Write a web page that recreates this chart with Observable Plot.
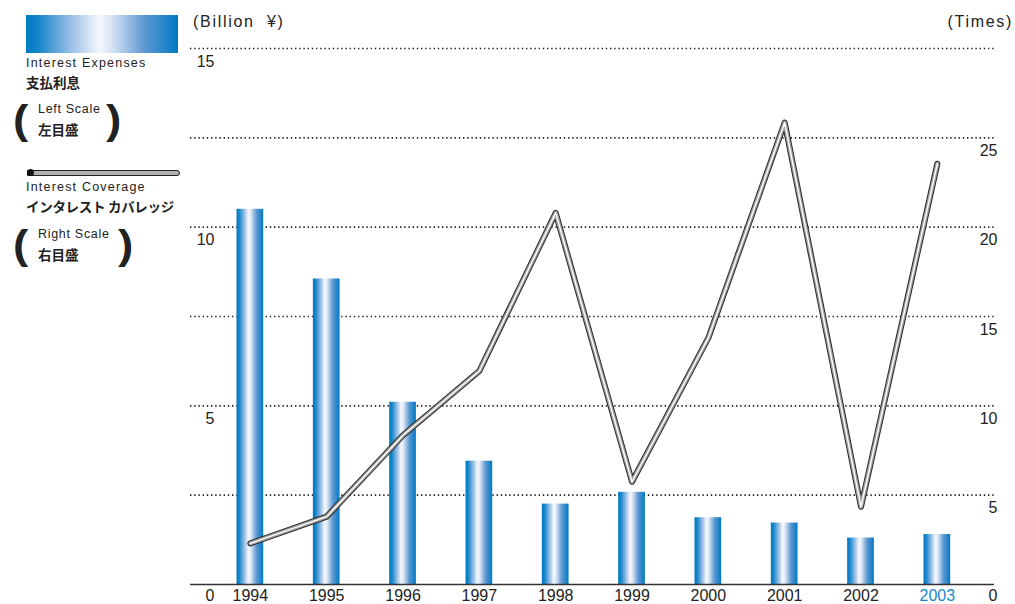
<!DOCTYPE html>
<html>
<head>
<meta charset="utf-8">
<script src="https://cdn.jsdelivr.net/npm/d3@7"></script>
<script src="https://cdn.jsdelivr.net/npm/@observablehq/plot@0.6"></script>
<style>
  html, body { margin: 0; padding: 0; background: #fff; }
  #wrap { position: relative; width: 1015px; height: 604px; font-family: "Liberation Sans", Arial, sans-serif; color: #222; }
  #wrap svg { position: absolute; left: 0; top: 0; }
  .abs { position: absolute; white-space: pre; }
  .en { font-size: 12.5px; letter-spacing: 1.2px; }
  .ja { font-family: "Noto Sans CJK JP", sans-serif; font-weight: bold; font-size: 13.5px; }
  .small { font-size: 12.5px; letter-spacing: 0.7px; }
  .paren { font-family: "Liberation Sans", Arial, sans-serif; font-weight: bold; font-size: 40px; line-height: 40px; transform: scaleX(1.15); }
  .unit { font-size: 16px; letter-spacing: 1.7px; }
</style>
</head>
<body>
<div id="wrap"></div>
<script>
// ---- data ----
const years = ["1994", "1995", "1996", "1997", "1998", "1999", "2000", "2001", "2002", "2003"];
const interestExpenses = [10.5, 8.55, 5.1, 3.45, 2.25, 2.58, 1.87, 1.72, 1.3, 1.4]; // Billion ¥ (left scale)
const interestCoverage = [2.3, 3.8, 8.35, 11.95, 20.8, 5.75, 13.8, 25.85, 4.35, 23.55]; // Times (right scale)
const leftTicks = [5, 10, 15];
const rightTicks = [5, 10, 15, 20, 25];
const zeroTick = [0];
const rightGrid = [5, 10, 15, 20, 25, 30];
const leftMax = 15, rightMax = 30;
const highlightYear = "2003";

const toLeft = v => v * leftMax / rightMax;
const rows = years.map((y, i) => ({year: y, expense: interestExpenses[i], coverage: toLeft(interestCoverage[i])}));

const plot = Plot.plot({
  width: 1015,
  height: 604,
  marginLeft: 190,
  marginRight: 21,
  marginTop: 48,
  marginBottom: 20,
  style: {fontFamily: "Liberation Sans, Arial, sans-serif", fontSize: "16px", color: "#222", background: "transparent"},
  x: {type: "band", domain: years, paddingInner: 0.65, paddingOuter: 0.5916, align: 0.515, round: false, label: null},
  y: {domain: [0, leftMax], label: null},
  marks: [
    Plot.ruleY(rightGrid.map(toLeft), {stroke: "#222", strokeWidth: 1.6, strokeDasharray: "1.4 2.8"}),
    Plot.barY(rows, {x: "year", y: "expense", fill: "url(#barGrad)"}),
    Plot.ruleY([0], {stroke: "#333", strokeWidth: 1.6}),
    Plot.line(rows, {x: "year", y: "coverage", stroke: "#2a2a2a", strokeWidth: 6, strokeLinejoin: "round", strokeLinecap: "round"}),
    Plot.line(rows, {x: "year", y: "coverage", stroke: "#a0a0a0", strokeWidth: 4, strokeLinejoin: "round", strokeLinecap: "round"}),
    Plot.line(rows, {x: "year", y: "coverage", stroke: "#ffffff", strokeWidth: 1.4, strokeLinejoin: "round", strokeLinecap: "round"}),
    Plot.axisY(leftTicks, {anchor: "left", tickSize: 0, tickPadding: 0, dx: 24, dy: 13, label: null, fill: "#222"}),
    Plot.axisY(zeroTick, {anchor: "left", tickSize: 0, tickPadding: 0, dx: 24, dy: 11, label: null, fill: "#222"}),
    Plot.axisY(rightTicks.map(toLeft), {anchor: "right", tickSize: 0, tickPadding: 0, textAnchor: "end", dx: 3, dy: 13, label: null, tickFormat: d => String(Math.round(d * rightMax / leftMax)), fill: "#222"}),
    Plot.axisY(zeroTick, {anchor: "right", tickSize: 0, tickPadding: 0, textAnchor: "end", dx: 3, dy: 11, label: null, fill: "#222"}),
    Plot.axisX({anchor: "bottom", tickSize: 0, tickPadding: 5, label: null, fill: d => d === highlightYear ? "#1a86c9" : "#222"})
  ]
});

// gradient for bars
const defs = d3.select(plot).insert("defs", ":first-child");
const g = defs.append("linearGradient").attr("id", "barGrad").attr("x1", "0").attr("x2", "1").attr("y1", "0").attr("y2", "0");
[[0, "#0079c4"], [0.1, "#1585c9"], [0.3, "#9cc0e6"], [0.44, "#f4f7fd"], [0.52, "#e6edf8"], [0.75, "#5c98d1"], [1, "#0079c4"]]
  .forEach(([o, c]) => g.append("stop").attr("offset", o).attr("stop-color", c));

const wrap = document.getElementById("wrap");
wrap.appendChild(plot);

// legend + unit labels (HTML overlay)
const html = `
  <div class="abs" style="left:26px;top:15px;width:152px;height:38px;background:linear-gradient(to right,#0079c4 0%,#1585c9 8%,#9cc0e6 30%,#f4f7fd 48%,#dfe8f6 55%,#5c98d1 78%,#0079c4 100%);"></div>
  <div class="abs en" style="left:26px;top:56px;">Interest Expenses</div>
  <div class="abs ja" style="left:26px;top:72px;">支払利息</div>
  <div class="abs paren" style="left:14px;top:100px;">(</div>
  <div class="abs small" style="left:38px;top:102px;">Left Scale</div>
  <div class="abs ja" style="left:38px;top:119px;">左目盛</div>
  <div class="abs paren" style="left:107px;top:100px;">)</div>
  <div class="abs" style="left:27px;top:170px;width:151px;height:4px;background:#b0b0b0;border:1px solid #222;border-radius:0 4px 4px 0;"></div>
  <div class="abs" style="left:27px;top:169px;width:7px;height:7px;background:#111;border-radius:50%;"></div>
  <div class="abs en" style="left:26px;top:180px;">Interest Coverage</div>
  <div class="abs ja" style="left:26px;top:196px;letter-spacing:-0.3px;">インタレスト カバレッジ</div>
  <div class="abs paren" style="left:14px;top:225px;">(</div>
  <div class="abs small" style="left:38px;top:227px;">Right Scale</div>
  <div class="abs ja" style="left:38px;top:244px;">右目盛</div>
  <div class="abs paren" style="left:119px;top:225px;">)</div>
  <div class="abs unit" style="left:193px;top:13px;">(Billion  ¥)</div>
  <div class="abs unit" style="right:2px;top:13px;">(Times)</div>
`;
wrap.insertAdjacentHTML("beforeend", html);
</script>
</body>
</html>
